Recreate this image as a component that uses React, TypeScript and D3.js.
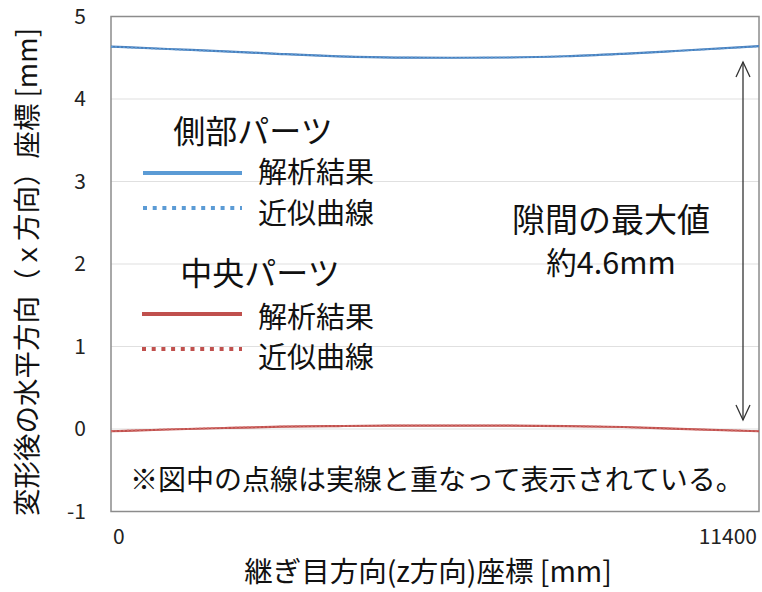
import React, { useEffect } from 'react';
import * as d3 from 'd3';

// 継ぎ目方向座標 [mm]
const zPos = [0, 1000, 2000, 3000, 4000, 5000, 6000, 7000, 8000, 9000, 10000, 11400];
// 側部パーツ
const sideResult = [4.636, 4.606, 4.578, 4.545, 4.517, 4.502, 4.500, 4.503, 4.518, 4.548, 4.585, 4.640];
const sideApprox = [4.634, 4.605, 4.577, 4.546, 4.518, 4.503, 4.500, 4.504, 4.519, 4.547, 4.584, 4.638];
// 中央パーツ
const centerResult = [-0.027, -0.006, 0.012, 0.028, 0.036, 0.042, 0.042, 0.042, 0.036, 0.024, 0.002, -0.027];
const centerApprox = [-0.026, -0.005, 0.013, 0.029, 0.037, 0.041, 0.043, 0.041, 0.035, 0.023, 0.001, -0.026];

const yTicks = [-1, 0, 1, 2, 3, 4, 5];
const xTicks = [0, 11400];

const FONT = '"Noto Sans CJK JP", "Noto Sans", sans-serif';
const BLUE = '#4a7ebb';
const BLUE_LEGEND = '#5b9bd5';
const RED = '#c0504d';

const W = 762;
const H = 592;
const plot = { left: 111, right: 759, top: 16.5, bottom: 511.5 };

export default function App() {
  useEffect(() => {
    document.body.style.margin = '0';
  }, []);

  const x = d3.scaleLinear().domain([0, 11400]).range([plot.left, plot.right]);
  const y = d3.scaleLinear().domain([-1, 5]).range([plot.bottom, plot.top]);

  const line = (vals: number[]) =>
    d3.line<number>()
      .x((_, i) => x(zPos[i]))
      .y(d => y(d))
      .curve(d3.curveMonotoneX)(vals) || '';

  const arrowX = 743;
  const arrowTop = 62;
  const arrowBottom = 420;

  return (
    <svg width={W} height={H} style={{ display: 'block', background: '#fff' }} fontFamily={FONT}>
      {/* grid */}
      {yTicks.filter(t => t > -1 && t < 5).map(t => (
        <line key={t} x1={plot.left} x2={plot.right} y1={y(t)} y2={y(t)} stroke="#e0e0e0" strokeWidth={1.2} />
      ))}
      <rect x={plot.left} y={plot.top} width={plot.right - plot.left} height={plot.bottom - plot.top}
        fill="none" stroke="#8c8c8c" strokeWidth={1.5} />

      {/* y ticks */}
      {yTicks.map(t => (
        <text key={t} x={86} y={y(t)} dy="0.35em" textAnchor="end" fontSize={21} fill="#222">{t}</text>
      ))}
      {/* x ticks */}
      {xTicks.map((t, i) => (
        <text key={t} x={i === 0 ? x(t) + 2 : x(t) - 2} y={537} dy="0.35em"
          textAnchor={i === 0 ? 'start' : 'end'} fontSize={21} fill="#222">{t}</text>
      ))}

      {/* axis titles */}
      <text x={428} y={572} dy="0.35em" textAnchor="middle" fontSize={28.5} fill="#111">継ぎ目方向(z方向)座標 [mm]</text>
      <text transform={`translate(27,${272}) rotate(-90)`} dy="0.35em" textAnchor="middle" fontSize={27.5} fill="#111">
        変形後の水平方向（ｘ方向）座標 [mm]
      </text>

      {/* series */}
      <path d={line(sideResult)} fill="none" stroke={BLUE} strokeWidth={2.2} />
      <path d={line(sideApprox)} fill="none" stroke={BLUE_LEGEND} strokeWidth={1.6} strokeDasharray="2,2" />
      <path d={line(centerResult)} fill="none" stroke={RED} strokeWidth={2.2} />
      <path d={line(centerApprox)} fill="none" stroke="#d06a67" strokeWidth={1.6} strokeDasharray="2,2" />

      {/* legend */}
      <text x={253} y={132} dy="0.35em" textAnchor="middle" fontSize={32} fill="#111">側部パーツ</text>
      <line x1={143} x2={242} y1={173} y2={173} stroke={BLUE_LEGEND} strokeWidth={4} />
      <text x={258} y={173} dy="0.35em" fontSize={29} fill="#111">解析結果</text>
      <line x1={143} x2={242} y1={208} y2={208} stroke={BLUE_LEGEND} strokeWidth={4} strokeDasharray="4,5.7" />
      <text x={258} y={214} dy="0.35em" fontSize={29} fill="#111">近似曲線</text>

      <text x={260} y={274} dy="0.35em" textAnchor="middle" fontSize={32} fill="#111">中央パーツ</text>
      <line x1={142} x2={242} y1={314} y2={314} stroke={RED} strokeWidth={4} />
      <text x={258} y={318} dy="0.35em" fontSize={29} fill="#111">解析結果</text>
      <line x1={142} x2={242} y1={349} y2={349} stroke={RED} strokeWidth={4} strokeDasharray="4,5.7" />
      <text x={258} y={358} dy="0.35em" fontSize={29} fill="#111">近似曲線</text>

      {/* gap annotation */}
      <line x1={arrowX} x2={arrowX} y1={arrowTop} y2={arrowBottom} stroke="#333" strokeWidth={1.3} />
      <path d={`M${arrowX - 7},${arrowTop + 15} L${arrowX},${arrowTop} L${arrowX + 7},${arrowTop + 15}`}
        fill="none" stroke="#333" strokeWidth={1.3} />
      <path d={`M${arrowX - 7},${arrowBottom - 15} L${arrowX},${arrowBottom} L${arrowX + 7},${arrowBottom - 15}`}
        fill="none" stroke="#333" strokeWidth={1.3} />
      <text x={611} y={220} dy="0.35em" textAnchor="middle" fontSize={33} fill="#111">隙間の最大値</text>
      <text x={611} y={263} dy="0.35em" textAnchor="middle" fontSize={30.5} fill="#111">約4.6mm</text>

      {/* note */}
      <text x={437} y={480} dy="0.35em" textAnchor="middle" fontSize={28} fill="#111">
        ※図中の点線は実線と重なって表示されている。
      </text>
    </svg>
  );
}
